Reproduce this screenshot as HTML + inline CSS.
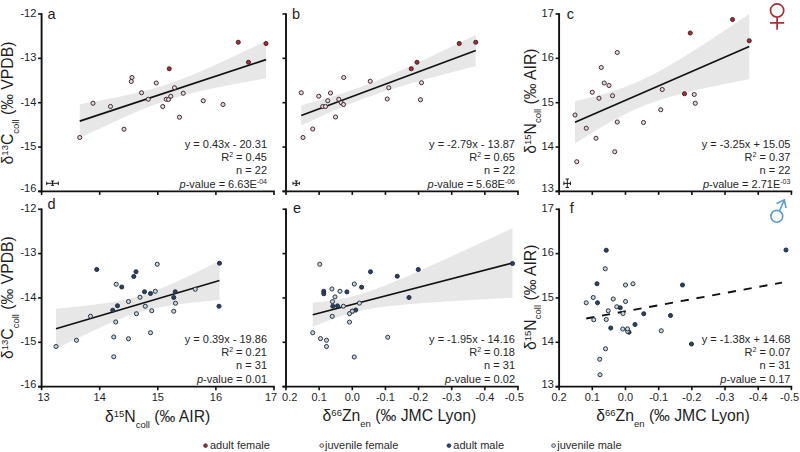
<!DOCTYPE html>
<html><head><meta charset="utf-8"><style>
html,body{margin:0;padding:0;background:#fff;}
body{width:800px;height:452px;overflow:hidden;font-family:"Liberation Sans", sans-serif;}
svg{display:block;}
</style></head><body>
<svg width="800" height="452" viewBox="0 0 800 452" font-family='"Liberation Sans", sans-serif'>
<rect width="800" height="452" fill="#fff"/>
<polygon points="79.75,104.27 82.08,103.85 84.41,103.43 86.73,103.01 89.06,102.58 91.39,102.15 93.72,101.71 96.05,101.28 98.38,100.84 100.70,100.40 103.03,99.95 105.36,99.50 107.69,99.04 110.02,98.58 112.34,98.12 114.67,97.65 117.00,97.17 119.33,96.69 121.66,96.20 123.98,95.70 126.31,95.19 128.64,94.68 130.97,94.16 133.30,93.63 135.62,93.08 137.95,92.53 140.28,91.96 142.61,91.38 144.94,90.79 147.27,90.18 149.59,89.55 151.92,88.91 154.25,88.26 156.58,87.58 158.91,86.89 161.23,86.17 163.56,85.44 165.89,84.69 168.22,83.92 170.55,83.13 172.88,82.32 175.20,81.49 177.53,80.64 179.86,79.77 182.19,78.89 184.52,77.99 186.84,77.07 189.17,76.14 191.50,75.19 193.83,74.23 196.16,73.25 198.48,72.27 200.81,71.27 203.14,70.26 205.47,69.24 207.80,68.22 210.12,67.18 212.45,66.14 214.78,65.09 217.11,64.03 219.44,62.97 221.77,61.90 224.09,60.83 226.42,59.75 228.75,58.66 231.08,57.57 233.41,56.48 235.73,55.39 238.06,54.29 240.39,53.18 242.72,52.08 245.05,50.97 247.38,49.86 249.70,48.74 252.03,47.63 254.36,46.51 256.69,45.39 259.02,44.26 261.34,43.14 263.67,42.01 266.00,40.89 266.00,78.32 263.67,78.74 261.34,79.15 259.02,79.56 256.69,79.98 254.36,80.40 252.03,80.82 249.70,81.24 247.38,81.66 245.05,82.09 242.72,82.52 240.39,82.95 238.06,83.39 235.73,83.83 233.41,84.27 231.08,84.71 228.75,85.16 226.42,85.62 224.09,86.08 221.77,86.54 219.44,87.01 217.11,87.49 214.78,87.97 212.45,88.46 210.12,88.95 207.80,89.46 205.47,89.97 203.14,90.49 200.81,91.02 198.48,91.56 196.16,92.11 193.83,92.68 191.50,93.26 189.17,93.85 186.84,94.45 184.52,95.07 182.19,95.71 179.86,96.37 177.53,97.04 175.20,97.73 172.88,98.44 170.55,99.16 168.22,99.91 165.89,100.68 163.56,101.47 161.23,102.27 158.91,103.10 156.58,103.94 154.25,104.81 151.92,105.69 149.59,106.59 147.27,107.50 144.94,108.43 142.61,109.38 140.28,110.34 137.95,111.31 135.62,112.29 133.30,113.29 130.97,114.29 128.64,115.31 126.31,116.33 123.98,117.37 121.66,118.41 119.33,119.46 117.00,120.51 114.67,121.57 112.34,122.64 110.02,123.72 107.69,124.79 105.36,125.88 103.03,126.96 100.70,128.06 98.38,129.15 96.05,130.25 93.72,131.35 91.39,132.46 89.06,133.57 86.73,134.68 84.41,135.79 82.08,136.91 79.75,138.03" fill="#e7e7e7"/>
<polygon points="301.25,105.31 303.43,104.71 305.61,104.11 307.79,103.51 309.98,102.90 312.16,102.29 314.34,101.68 316.52,101.06 318.70,100.43 320.88,99.80 323.06,99.17 325.24,98.53 327.43,97.88 329.61,97.23 331.79,96.57 333.97,95.90 336.15,95.23 338.33,94.54 340.51,93.85 342.69,93.15 344.88,92.44 347.06,91.72 349.24,90.99 351.42,90.25 353.60,89.50 355.78,88.73 357.96,87.96 360.14,87.17 362.32,86.37 364.51,85.56 366.69,84.74 368.87,83.90 371.05,83.06 373.23,82.20 375.41,81.33 377.59,80.45 379.77,79.55 381.96,78.65 384.14,77.74 386.32,76.82 388.50,75.89 390.68,74.95 392.86,74.00 395.04,73.04 397.23,72.08 399.41,71.11 401.59,70.13 403.77,69.15 405.95,68.16 408.13,67.17 410.31,66.17 412.49,65.17 414.68,64.16 416.86,63.15 419.04,62.13 421.22,61.12 423.40,60.09 425.58,59.07 427.76,58.04 429.94,57.01 432.12,55.97 434.31,54.94 436.49,53.90 438.67,52.86 440.85,51.81 443.03,50.77 445.21,49.72 447.39,48.67 449.57,47.62 451.76,46.57 453.94,45.52 456.12,44.46 458.30,43.41 460.48,42.35 462.66,41.29 464.84,40.23 467.02,39.17 469.21,38.11 471.39,37.05 473.57,35.99 475.75,34.92 475.75,66.13 473.57,66.69 471.39,67.25 469.21,67.81 467.02,68.37 464.84,68.93 462.66,69.50 460.48,70.06 458.30,70.63 456.12,71.20 453.94,71.76 451.76,72.33 449.57,72.91 447.39,73.48 445.21,74.05 443.03,74.63 440.85,75.21 438.67,75.79 436.49,76.37 434.31,76.95 432.12,77.54 429.94,78.13 427.76,78.72 425.58,79.31 423.40,79.91 421.22,80.51 419.04,81.12 416.86,81.72 414.68,82.34 412.49,82.95 410.31,83.57 408.13,84.20 405.95,84.82 403.77,85.46 401.59,86.10 399.41,86.75 397.23,87.40 395.04,88.06 392.86,88.73 390.68,89.40 388.50,90.09 386.32,90.78 384.14,91.48 381.96,92.19 379.77,92.91 377.59,93.64 375.41,94.38 373.23,95.14 371.05,95.90 368.87,96.68 366.69,97.46 364.51,98.26 362.32,99.08 360.14,99.90 357.96,100.74 355.78,101.58 353.60,102.44 351.42,103.31 349.24,104.20 347.06,105.09 344.88,105.99 342.69,106.90 340.51,107.83 338.33,108.76 336.15,109.70 333.97,110.65 331.79,111.60 329.61,112.57 327.43,113.54 325.24,114.51 323.06,115.49 320.88,116.48 318.70,117.48 316.52,118.48 314.34,119.48 312.16,120.49 309.98,121.50 307.79,122.51 305.61,123.53 303.43,124.56 301.25,125.58" fill="#e7e7e7"/>
<polygon points="575.00,101.20 577.18,100.70 579.36,100.19 581.53,99.68 583.71,99.16 585.89,98.63 588.07,98.09 590.25,97.54 592.42,96.99 594.60,96.42 596.78,95.84 598.96,95.25 601.14,94.65 603.32,94.03 605.49,93.40 607.67,92.75 609.85,92.09 612.03,91.41 614.21,90.71 616.38,89.99 618.56,89.26 620.74,88.50 622.92,87.72 625.10,86.92 627.27,86.10 629.45,85.25 631.63,84.37 633.81,83.48 635.99,82.55 638.17,81.61 640.34,80.63 642.52,79.64 644.70,78.61 646.88,77.57 649.06,76.49 651.23,75.40 653.41,74.28 655.59,73.15 657.77,71.99 659.95,70.81 662.12,69.61 664.30,68.40 666.48,67.16 668.66,65.91 670.84,64.65 673.02,63.37 675.19,62.08 677.37,60.78 679.55,59.46 681.73,58.13 683.91,56.80 686.08,55.45 688.26,54.09 690.44,52.73 692.62,51.35 694.80,49.97 696.98,48.59 699.15,47.19 701.33,45.79 703.51,44.38 705.69,42.97 707.87,41.56 710.04,40.13 712.22,38.71 714.40,37.28 716.58,35.84 718.76,34.40 720.93,32.96 723.11,31.52 725.29,30.07 727.47,28.62 729.65,27.16 731.83,25.71 734.00,24.25 736.18,22.78 738.36,21.32 740.54,19.85 742.72,18.38 744.89,16.91 747.07,15.44 749.25,13.97 749.25,79.18 747.07,79.60 744.89,80.02 742.72,80.44 740.54,80.87 738.36,81.30 736.18,81.73 734.00,82.16 731.83,82.59 729.65,83.03 727.47,83.47 725.29,83.91 723.11,84.36 720.93,84.81 718.76,85.26 716.58,85.71 714.40,86.17 712.22,86.64 710.04,87.10 707.87,87.58 705.69,88.05 703.51,88.53 701.33,89.02 699.15,89.52 696.98,90.02 694.80,90.52 692.62,91.03 690.44,91.56 688.26,92.08 686.08,92.62 683.91,93.17 681.73,93.72 679.55,94.29 677.37,94.87 675.19,95.46 673.02,96.06 670.84,96.68 668.66,97.31 666.48,97.95 664.30,98.61 662.12,99.29 659.95,99.99 657.77,100.70 655.59,101.44 653.41,102.20 651.23,102.97 649.06,103.77 646.88,104.60 644.70,105.44 642.52,106.31 640.34,107.21 638.17,108.13 635.99,109.08 633.81,110.05 631.63,111.04 629.45,112.07 627.27,113.11 625.10,114.18 622.92,115.27 620.74,116.39 618.56,117.52 616.38,118.68 614.21,119.86 612.03,121.05 609.85,122.27 607.67,123.50 605.49,124.75 603.32,126.01 601.14,127.29 598.96,128.58 596.78,129.88 594.60,131.20 592.42,132.52 590.25,133.86 588.07,135.21 585.89,136.56 583.71,137.93 581.53,139.30 579.36,140.68 577.18,142.07 575.00,143.46" fill="#e7e7e7"/>
<polygon points="56.00,308.66 58.04,308.47 60.09,308.28 62.13,308.09 64.17,307.89 66.22,307.69 68.26,307.49 70.31,307.29 72.35,307.08 74.39,306.87 76.44,306.66 78.48,306.45 80.53,306.23 82.57,306.01 84.61,305.78 86.66,305.55 88.70,305.31 90.74,305.07 92.79,304.83 94.83,304.58 96.88,304.32 98.92,304.06 100.96,303.78 103.01,303.50 105.05,303.21 107.09,302.91 109.14,302.60 111.18,302.28 113.22,301.95 115.27,301.60 117.31,301.24 119.36,300.86 121.40,300.47 123.44,300.05 125.49,299.62 127.53,299.17 129.57,298.69 131.62,298.19 133.66,297.67 135.71,297.13 137.75,296.56 139.79,295.96 141.84,295.34 143.88,294.69 145.93,294.02 147.97,293.32 150.01,292.61 152.06,291.86 154.10,291.10 156.14,290.32 158.19,289.52 160.23,288.70 162.28,287.86 164.32,287.01 166.36,286.14 168.41,285.26 170.45,284.37 172.49,283.47 174.54,282.56 176.58,281.64 178.62,280.71 180.67,279.77 182.71,278.82 184.76,277.87 186.80,276.91 188.84,275.94 190.89,274.97 192.93,274.00 194.97,273.02 197.02,272.04 199.06,271.05 201.11,270.06 203.15,269.06 205.19,268.07 207.24,267.06 209.28,266.06 211.32,265.06 213.37,264.05 215.41,263.04 217.46,262.03 219.50,261.01 219.50,299.90 217.46,300.10 215.41,300.29 213.37,300.49 211.32,300.69 209.28,300.89 207.24,301.10 205.19,301.31 203.15,301.52 201.11,301.73 199.06,301.95 197.02,302.17 194.97,302.39 192.93,302.62 190.89,302.85 188.84,303.09 186.80,303.33 184.76,303.58 182.71,303.84 180.67,304.10 178.62,304.37 176.58,304.65 174.54,304.93 172.49,305.23 170.45,305.53 168.41,305.85 166.36,306.18 164.32,306.52 162.28,306.88 160.23,307.25 158.19,307.64 156.14,308.04 154.10,308.47 152.06,308.91 150.01,309.38 147.97,309.87 145.93,310.38 143.88,310.92 141.84,311.48 139.79,312.07 137.75,312.68 135.71,313.32 133.66,313.98 131.62,314.66 129.57,315.37 127.53,316.11 125.49,316.86 123.44,317.64 121.40,318.43 119.36,319.25 117.31,320.08 115.27,320.92 113.22,321.78 111.18,322.66 109.14,323.54 107.09,324.44 105.05,325.35 103.01,326.27 100.96,327.20 98.92,328.13 96.88,329.07 94.83,330.02 92.79,330.98 90.74,331.94 88.70,332.91 86.66,333.89 84.61,334.86 82.57,335.85 80.53,336.83 78.48,337.82 76.44,338.81 74.39,339.81 72.35,340.81 70.31,341.81 68.26,342.82 66.22,343.82 64.17,344.83 62.13,345.85 60.09,346.86 58.04,347.87 56.00,348.89" fill="#e7e7e7"/>
<polygon points="312.75,302.78 315.25,302.51 317.74,302.24 320.24,301.95 322.74,301.64 325.23,301.32 327.73,300.98 330.23,300.62 332.73,300.24 335.22,299.84 337.72,299.41 340.22,298.96 342.71,298.47 345.21,297.96 347.71,297.41 350.20,296.83 352.70,296.21 355.20,295.56 357.69,294.88 360.19,294.16 362.69,293.41 365.18,292.63 367.68,291.82 370.18,290.97 372.68,290.10 375.17,289.21 377.67,288.29 380.17,287.35 382.66,286.40 385.16,285.42 387.66,284.43 390.15,283.42 392.65,282.40 395.15,281.37 397.64,280.33 400.14,279.27 402.64,278.21 405.13,277.14 407.63,276.06 410.13,274.98 412.62,273.89 415.12,272.79 417.62,271.69 420.12,270.58 422.61,269.47 425.11,268.36 427.61,267.24 430.10,266.12 432.60,264.99 435.10,263.86 437.59,262.73 440.09,261.60 442.59,260.46 445.08,259.32 447.58,258.18 450.08,257.04 452.57,255.90 455.07,254.75 457.57,253.61 460.07,252.46 462.56,251.31 465.06,250.16 467.56,249.00 470.05,247.85 472.55,246.70 475.05,245.54 477.54,244.38 480.04,243.23 482.54,242.07 485.03,240.91 487.53,239.75 490.03,238.59 492.52,237.43 495.02,236.27 497.52,235.10 500.02,233.94 502.51,232.78 505.01,231.61 507.51,230.45 510.00,229.28 512.50,228.12 512.50,297.80 510.00,297.93 507.51,298.06 505.01,298.19 502.51,298.33 500.02,298.46 497.52,298.59 495.02,298.73 492.52,298.86 490.03,298.99 487.53,299.13 485.03,299.27 482.54,299.40 480.04,299.54 477.54,299.68 475.05,299.82 472.55,299.96 470.05,300.10 467.56,300.24 465.06,300.39 462.56,300.53 460.07,300.68 457.57,300.83 455.07,300.97 452.57,301.12 450.08,301.28 447.58,301.43 445.08,301.59 442.59,301.75 440.09,301.91 437.59,302.07 435.10,302.23 432.60,302.40 430.10,302.57 427.61,302.74 425.11,302.92 422.61,303.10 420.12,303.29 417.62,303.48 415.12,303.67 412.62,303.87 410.13,304.08 407.63,304.29 405.13,304.51 402.64,304.73 400.14,304.96 397.64,305.21 395.15,305.46 392.65,305.72 390.15,306.00 387.66,306.29 385.16,306.59 382.66,306.91 380.17,307.25 377.67,307.61 375.17,307.99 372.68,308.39 370.18,308.81 367.68,309.27 365.18,309.75 362.69,310.26 360.19,310.81 357.69,311.39 355.20,312.00 352.70,312.65 350.20,313.33 347.71,314.04 345.21,314.79 342.71,315.57 340.22,316.38 337.72,317.22 335.22,318.09 332.73,318.98 330.23,319.90 327.73,320.84 325.23,321.80 322.74,322.77 320.24,323.76 317.74,324.77 315.25,325.79 312.75,326.82" fill="#e7e7e7"/>
<line x1="79.75" y1="121.15" x2="266.00" y2="59.61" stroke="#111" stroke-width="1.7"/>
<line x1="301.25" y1="115.45" x2="475.75" y2="50.53" stroke="#111" stroke-width="1.7"/>
<line x1="575.00" y1="122.33" x2="749.25" y2="46.57" stroke="#111" stroke-width="1.7"/>
<line x1="56.00" y1="328.78" x2="219.50" y2="280.46" stroke="#111" stroke-width="1.7"/>
<line x1="312.75" y1="314.80" x2="512.50" y2="262.96" stroke="#111" stroke-width="1.7"/>
<line x1="586.25" y1="318.5" x2="782" y2="282.6" stroke="#111" stroke-width="1.9" stroke-dasharray="8.2 7.8"/>
<line x1="41.60" y1="13.20" x2="41.60" y2="192.35" stroke="#111" stroke-width="1.9"/>
<line x1="38.10" y1="14.00" x2="41.60" y2="14.00" stroke="#111" stroke-width="1.6"/>
<line x1="38.10" y1="58.35" x2="41.60" y2="58.35" stroke="#111" stroke-width="1.6"/>
<line x1="38.10" y1="102.70" x2="41.60" y2="102.70" stroke="#111" stroke-width="1.6"/>
<line x1="38.10" y1="147.05" x2="41.60" y2="147.05" stroke="#111" stroke-width="1.6"/>
<line x1="38.10" y1="191.40" x2="41.60" y2="191.40" stroke="#111" stroke-width="1.6"/>
<line x1="38.10" y1="191.40" x2="274.80" y2="191.40" stroke="#111" stroke-width="1.9"/>
<line x1="41.60" y1="191.40" x2="41.60" y2="194.90" stroke="#111" stroke-width="1.6"/>
<line x1="99.70" y1="191.40" x2="99.70" y2="194.90" stroke="#111" stroke-width="1.6"/>
<line x1="157.80" y1="191.40" x2="157.80" y2="194.90" stroke="#111" stroke-width="1.6"/>
<line x1="215.90" y1="191.40" x2="215.90" y2="194.90" stroke="#111" stroke-width="1.6"/>
<line x1="274.00" y1="191.40" x2="274.00" y2="194.90" stroke="#111" stroke-width="1.6"/>
<text x="47.50" y="18.60" font-size="14.5" text-anchor="start" fill="#1e1e1e">a</text>
<text x="36.30" y="16.80" font-size="11" text-anchor="end" fill="#1e1e1e">-12</text>
<text x="36.30" y="61.15" font-size="11" text-anchor="end" fill="#1e1e1e">-13</text>
<text x="36.30" y="105.50" font-size="11" text-anchor="end" fill="#1e1e1e">-14</text>
<text x="36.30" y="149.85" font-size="11" text-anchor="end" fill="#1e1e1e">-15</text>
<text x="36.30" y="191.60" font-size="11" text-anchor="end" fill="#1e1e1e">-16</text>
<line x1="286.00" y1="13.20" x2="286.00" y2="192.35" stroke="#111" stroke-width="1.9"/>
<line x1="282.50" y1="14.00" x2="286.00" y2="14.00" stroke="#111" stroke-width="1.6"/>
<line x1="282.50" y1="58.35" x2="286.00" y2="58.35" stroke="#111" stroke-width="1.6"/>
<line x1="282.50" y1="102.70" x2="286.00" y2="102.70" stroke="#111" stroke-width="1.6"/>
<line x1="282.50" y1="147.05" x2="286.00" y2="147.05" stroke="#111" stroke-width="1.6"/>
<line x1="282.50" y1="191.40" x2="286.00" y2="191.40" stroke="#111" stroke-width="1.6"/>
<line x1="282.50" y1="191.40" x2="518.80" y2="191.40" stroke="#111" stroke-width="1.9"/>
<line x1="286.00" y1="191.40" x2="286.00" y2="194.90" stroke="#111" stroke-width="1.6"/>
<line x1="319.14" y1="191.40" x2="319.14" y2="194.90" stroke="#111" stroke-width="1.6"/>
<line x1="352.29" y1="191.40" x2="352.29" y2="194.90" stroke="#111" stroke-width="1.6"/>
<line x1="385.43" y1="191.40" x2="385.43" y2="194.90" stroke="#111" stroke-width="1.6"/>
<line x1="418.57" y1="191.40" x2="418.57" y2="194.90" stroke="#111" stroke-width="1.6"/>
<line x1="451.71" y1="191.40" x2="451.71" y2="194.90" stroke="#111" stroke-width="1.6"/>
<line x1="484.86" y1="191.40" x2="484.86" y2="194.90" stroke="#111" stroke-width="1.6"/>
<line x1="518.00" y1="191.40" x2="518.00" y2="194.90" stroke="#111" stroke-width="1.6"/>
<text x="292.10" y="18.60" font-size="14.5" text-anchor="start" fill="#1e1e1e">b</text>
<line x1="559.10" y1="13.20" x2="559.10" y2="192.35" stroke="#111" stroke-width="1.9"/>
<line x1="555.60" y1="14.00" x2="559.10" y2="14.00" stroke="#111" stroke-width="1.6"/>
<line x1="555.60" y1="58.35" x2="559.10" y2="58.35" stroke="#111" stroke-width="1.6"/>
<line x1="555.60" y1="102.70" x2="559.10" y2="102.70" stroke="#111" stroke-width="1.6"/>
<line x1="555.60" y1="147.05" x2="559.10" y2="147.05" stroke="#111" stroke-width="1.6"/>
<line x1="555.60" y1="191.40" x2="559.10" y2="191.40" stroke="#111" stroke-width="1.6"/>
<line x1="555.60" y1="191.40" x2="792.20" y2="191.40" stroke="#111" stroke-width="1.9"/>
<line x1="559.10" y1="191.40" x2="559.10" y2="194.90" stroke="#111" stroke-width="1.6"/>
<line x1="592.29" y1="191.40" x2="592.29" y2="194.90" stroke="#111" stroke-width="1.6"/>
<line x1="625.47" y1="191.40" x2="625.47" y2="194.90" stroke="#111" stroke-width="1.6"/>
<line x1="658.66" y1="191.40" x2="658.66" y2="194.90" stroke="#111" stroke-width="1.6"/>
<line x1="691.84" y1="191.40" x2="691.84" y2="194.90" stroke="#111" stroke-width="1.6"/>
<line x1="725.03" y1="191.40" x2="725.03" y2="194.90" stroke="#111" stroke-width="1.6"/>
<line x1="758.21" y1="191.40" x2="758.21" y2="194.90" stroke="#111" stroke-width="1.6"/>
<line x1="791.40" y1="191.40" x2="791.40" y2="194.90" stroke="#111" stroke-width="1.6"/>
<text x="566.65" y="19.20" font-size="14.5" text-anchor="start" fill="#1e1e1e">c</text>
<text x="553.80" y="16.80" font-size="11" text-anchor="end" fill="#1e1e1e">17</text>
<text x="553.80" y="61.15" font-size="11" text-anchor="end" fill="#1e1e1e">16</text>
<text x="553.80" y="105.50" font-size="11" text-anchor="end" fill="#1e1e1e">15</text>
<text x="553.80" y="149.85" font-size="11" text-anchor="end" fill="#1e1e1e">14</text>
<text x="553.80" y="191.60" font-size="11" text-anchor="end" fill="#1e1e1e">13</text>
<line x1="41.60" y1="208.45" x2="41.60" y2="387.60" stroke="#111" stroke-width="1.9"/>
<line x1="38.10" y1="209.25" x2="41.60" y2="209.25" stroke="#111" stroke-width="1.6"/>
<line x1="38.10" y1="253.60" x2="41.60" y2="253.60" stroke="#111" stroke-width="1.6"/>
<line x1="38.10" y1="297.95" x2="41.60" y2="297.95" stroke="#111" stroke-width="1.6"/>
<line x1="38.10" y1="342.30" x2="41.60" y2="342.30" stroke="#111" stroke-width="1.6"/>
<line x1="38.10" y1="386.65" x2="41.60" y2="386.65" stroke="#111" stroke-width="1.6"/>
<line x1="38.10" y1="386.65" x2="274.80" y2="386.65" stroke="#111" stroke-width="1.9"/>
<line x1="41.60" y1="386.65" x2="41.60" y2="390.15" stroke="#111" stroke-width="1.6"/>
<line x1="99.70" y1="386.65" x2="99.70" y2="390.15" stroke="#111" stroke-width="1.6"/>
<line x1="157.80" y1="386.65" x2="157.80" y2="390.15" stroke="#111" stroke-width="1.6"/>
<line x1="215.90" y1="386.65" x2="215.90" y2="390.15" stroke="#111" stroke-width="1.6"/>
<line x1="274.00" y1="386.65" x2="274.00" y2="390.15" stroke="#111" stroke-width="1.6"/>
<text x="47.60" y="209.40" font-size="14.5" text-anchor="start" fill="#1e1e1e">d</text>
<text x="36.30" y="212.05" font-size="11" text-anchor="end" fill="#1e1e1e">-12</text>
<text x="36.30" y="256.40" font-size="11" text-anchor="end" fill="#1e1e1e">-13</text>
<text x="36.30" y="300.75" font-size="11" text-anchor="end" fill="#1e1e1e">-14</text>
<text x="36.30" y="345.10" font-size="11" text-anchor="end" fill="#1e1e1e">-15</text>
<text x="36.30" y="387.85" font-size="11" text-anchor="end" fill="#1e1e1e">-16</text>
<text x="43.60" y="400.85" font-size="11" text-anchor="middle" fill="#1e1e1e">13</text>
<text x="99.70" y="400.85" font-size="11" text-anchor="middle" fill="#1e1e1e">14</text>
<text x="157.80" y="400.85" font-size="11" text-anchor="middle" fill="#1e1e1e">15</text>
<text x="215.90" y="400.85" font-size="11" text-anchor="middle" fill="#1e1e1e">16</text>
<text x="271.00" y="400.85" font-size="11" text-anchor="middle" fill="#1e1e1e">17</text>
<line x1="286.00" y1="208.45" x2="286.00" y2="387.60" stroke="#111" stroke-width="1.9"/>
<line x1="282.50" y1="209.25" x2="286.00" y2="209.25" stroke="#111" stroke-width="1.6"/>
<line x1="282.50" y1="253.60" x2="286.00" y2="253.60" stroke="#111" stroke-width="1.6"/>
<line x1="282.50" y1="297.95" x2="286.00" y2="297.95" stroke="#111" stroke-width="1.6"/>
<line x1="282.50" y1="342.30" x2="286.00" y2="342.30" stroke="#111" stroke-width="1.6"/>
<line x1="282.50" y1="386.65" x2="286.00" y2="386.65" stroke="#111" stroke-width="1.6"/>
<line x1="282.50" y1="386.65" x2="518.80" y2="386.65" stroke="#111" stroke-width="1.9"/>
<line x1="286.00" y1="386.65" x2="286.00" y2="390.15" stroke="#111" stroke-width="1.6"/>
<line x1="319.14" y1="386.65" x2="319.14" y2="390.15" stroke="#111" stroke-width="1.6"/>
<line x1="352.29" y1="386.65" x2="352.29" y2="390.15" stroke="#111" stroke-width="1.6"/>
<line x1="385.43" y1="386.65" x2="385.43" y2="390.15" stroke="#111" stroke-width="1.6"/>
<line x1="418.57" y1="386.65" x2="418.57" y2="390.15" stroke="#111" stroke-width="1.6"/>
<line x1="451.71" y1="386.65" x2="451.71" y2="390.15" stroke="#111" stroke-width="1.6"/>
<line x1="484.86" y1="386.65" x2="484.86" y2="390.15" stroke="#111" stroke-width="1.6"/>
<line x1="518.00" y1="386.65" x2="518.00" y2="390.15" stroke="#111" stroke-width="1.6"/>
<text x="292.90" y="213.30" font-size="14.5" text-anchor="start" fill="#1e1e1e">e</text>
<text x="289.70" y="400.85" font-size="11" text-anchor="middle" fill="#1e1e1e">0.2</text>
<text x="319.14" y="400.85" font-size="11" text-anchor="middle" fill="#1e1e1e">0.1</text>
<text x="352.29" y="400.85" font-size="11" text-anchor="middle" fill="#1e1e1e">0.0</text>
<text x="385.43" y="400.85" font-size="11" text-anchor="middle" fill="#1e1e1e">-0.1</text>
<text x="418.57" y="400.85" font-size="11" text-anchor="middle" fill="#1e1e1e">-0.2</text>
<text x="451.71" y="400.85" font-size="11" text-anchor="middle" fill="#1e1e1e">-0.3</text>
<text x="484.86" y="400.85" font-size="11" text-anchor="middle" fill="#1e1e1e">-0.4</text>
<text x="514.30" y="400.85" font-size="11" text-anchor="middle" fill="#1e1e1e">-0.5</text>
<line x1="559.10" y1="208.45" x2="559.10" y2="387.60" stroke="#111" stroke-width="1.9"/>
<line x1="555.60" y1="209.25" x2="559.10" y2="209.25" stroke="#111" stroke-width="1.6"/>
<line x1="555.60" y1="253.60" x2="559.10" y2="253.60" stroke="#111" stroke-width="1.6"/>
<line x1="555.60" y1="297.95" x2="559.10" y2="297.95" stroke="#111" stroke-width="1.6"/>
<line x1="555.60" y1="342.30" x2="559.10" y2="342.30" stroke="#111" stroke-width="1.6"/>
<line x1="555.60" y1="386.65" x2="559.10" y2="386.65" stroke="#111" stroke-width="1.6"/>
<line x1="555.60" y1="386.65" x2="792.20" y2="386.65" stroke="#111" stroke-width="1.9"/>
<line x1="559.10" y1="386.65" x2="559.10" y2="390.15" stroke="#111" stroke-width="1.6"/>
<line x1="592.29" y1="386.65" x2="592.29" y2="390.15" stroke="#111" stroke-width="1.6"/>
<line x1="625.47" y1="386.65" x2="625.47" y2="390.15" stroke="#111" stroke-width="1.6"/>
<line x1="658.66" y1="386.65" x2="658.66" y2="390.15" stroke="#111" stroke-width="1.6"/>
<line x1="691.84" y1="386.65" x2="691.84" y2="390.15" stroke="#111" stroke-width="1.6"/>
<line x1="725.03" y1="386.65" x2="725.03" y2="390.15" stroke="#111" stroke-width="1.6"/>
<line x1="758.21" y1="386.65" x2="758.21" y2="390.15" stroke="#111" stroke-width="1.6"/>
<line x1="791.40" y1="386.65" x2="791.40" y2="390.15" stroke="#111" stroke-width="1.6"/>
<text x="569.85" y="213.30" font-size="14.5" text-anchor="start" fill="#1e1e1e">f</text>
<text x="553.80" y="212.05" font-size="11" text-anchor="end" fill="#1e1e1e">17</text>
<text x="553.80" y="256.40" font-size="11" text-anchor="end" fill="#1e1e1e">16</text>
<text x="553.80" y="300.75" font-size="11" text-anchor="end" fill="#1e1e1e">15</text>
<text x="553.80" y="345.10" font-size="11" text-anchor="end" fill="#1e1e1e">14</text>
<text x="553.80" y="387.85" font-size="11" text-anchor="end" fill="#1e1e1e">13</text>
<text x="559.10" y="400.85" font-size="11" text-anchor="middle" fill="#1e1e1e">0.2</text>
<text x="592.29" y="400.85" font-size="11" text-anchor="middle" fill="#1e1e1e">0.1</text>
<text x="625.47" y="400.85" font-size="11" text-anchor="middle" fill="#1e1e1e">0.0</text>
<text x="658.66" y="400.85" font-size="11" text-anchor="middle" fill="#1e1e1e">-0.1</text>
<text x="691.84" y="400.85" font-size="11" text-anchor="middle" fill="#1e1e1e">-0.2</text>
<text x="725.03" y="400.85" font-size="11" text-anchor="middle" fill="#1e1e1e">-0.3</text>
<text x="758.21" y="400.85" font-size="11" text-anchor="middle" fill="#1e1e1e">-0.4</text>
<text x="789.60" y="400.85" font-size="11" text-anchor="middle" fill="#1e1e1e">-0.5</text>
<circle cx="79.75" cy="137.50" r="2.05" fill="#f8cdd4" stroke="#2a2a2a" stroke-width="0.95"/>
<circle cx="93.00" cy="103.25" r="2.05" fill="#f8cdd4" stroke="#2a2a2a" stroke-width="0.95"/>
<circle cx="110.50" cy="106.50" r="2.05" fill="#f8cdd4" stroke="#2a2a2a" stroke-width="0.95"/>
<circle cx="124.00" cy="129.25" r="2.05" fill="#f8cdd4" stroke="#2a2a2a" stroke-width="0.95"/>
<circle cx="132.00" cy="77.50" r="2.05" fill="#f8cdd4" stroke="#2a2a2a" stroke-width="0.95"/>
<circle cx="131.25" cy="81.50" r="2.05" fill="#f8cdd4" stroke="#2a2a2a" stroke-width="0.95"/>
<circle cx="141.50" cy="92.75" r="2.05" fill="#f8cdd4" stroke="#2a2a2a" stroke-width="0.95"/>
<circle cx="148.25" cy="99.25" r="2.05" fill="#f8cdd4" stroke="#2a2a2a" stroke-width="0.95"/>
<circle cx="156.25" cy="83.00" r="2.05" fill="#f8cdd4" stroke="#2a2a2a" stroke-width="0.95"/>
<circle cx="169.25" cy="68.75" r="2.05" fill="#b9242a" stroke="#2a2a2a" stroke-width="0.95"/>
<circle cx="162.75" cy="106.50" r="2.05" fill="#f8cdd4" stroke="#2a2a2a" stroke-width="0.95"/>
<circle cx="166.25" cy="99.25" r="2.05" fill="#f8cdd4" stroke="#2a2a2a" stroke-width="0.95"/>
<circle cx="168.50" cy="99.50" r="2.05" fill="#f8cdd4" stroke="#2a2a2a" stroke-width="0.95"/>
<circle cx="170.75" cy="96.25" r="2.05" fill="#f8cdd4" stroke="#2a2a2a" stroke-width="0.95"/>
<circle cx="174.50" cy="87.75" r="2.05" fill="#f8cdd4" stroke="#2a2a2a" stroke-width="0.95"/>
<circle cx="183.25" cy="93.25" r="2.05" fill="#f8cdd4" stroke="#2a2a2a" stroke-width="0.95"/>
<circle cx="179.50" cy="117.25" r="2.05" fill="#f8cdd4" stroke="#2a2a2a" stroke-width="0.95"/>
<circle cx="203.25" cy="100.75" r="2.05" fill="#f8cdd4" stroke="#2a2a2a" stroke-width="0.95"/>
<circle cx="223.00" cy="104.50" r="2.05" fill="#f8cdd4" stroke="#2a2a2a" stroke-width="0.95"/>
<circle cx="238.25" cy="42.25" r="2.05" fill="#b9242a" stroke="#2a2a2a" stroke-width="0.95"/>
<circle cx="248.50" cy="62.25" r="2.05" fill="#b9242a" stroke="#2a2a2a" stroke-width="0.95"/>
<circle cx="266.00" cy="43.50" r="2.05" fill="#b9242a" stroke="#2a2a2a" stroke-width="0.95"/>
<circle cx="301.25" cy="92.75" r="2.05" fill="#f8cdd4" stroke="#2a2a2a" stroke-width="0.95"/>
<circle cx="303.00" cy="137.50" r="2.05" fill="#f8cdd4" stroke="#2a2a2a" stroke-width="0.95"/>
<circle cx="312.75" cy="129.00" r="2.05" fill="#f8cdd4" stroke="#2a2a2a" stroke-width="0.95"/>
<circle cx="318.75" cy="96.25" r="2.05" fill="#f8cdd4" stroke="#2a2a2a" stroke-width="0.95"/>
<circle cx="322.75" cy="106.50" r="2.05" fill="#f8cdd4" stroke="#2a2a2a" stroke-width="0.95"/>
<circle cx="325.50" cy="106.50" r="2.05" fill="#f8cdd4" stroke="#2a2a2a" stroke-width="0.95"/>
<circle cx="327.75" cy="100.75" r="2.05" fill="#f8cdd4" stroke="#2a2a2a" stroke-width="0.95"/>
<circle cx="330.50" cy="93.00" r="2.05" fill="#f8cdd4" stroke="#2a2a2a" stroke-width="0.95"/>
<circle cx="335.50" cy="117.00" r="2.05" fill="#f8cdd4" stroke="#2a2a2a" stroke-width="0.95"/>
<circle cx="338.75" cy="99.25" r="2.05" fill="#f8cdd4" stroke="#2a2a2a" stroke-width="0.95"/>
<circle cx="341.25" cy="102.75" r="2.05" fill="#f8cdd4" stroke="#2a2a2a" stroke-width="0.95"/>
<circle cx="343.50" cy="104.50" r="2.05" fill="#f8cdd4" stroke="#2a2a2a" stroke-width="0.95"/>
<circle cx="343.75" cy="77.50" r="2.05" fill="#f8cdd4" stroke="#2a2a2a" stroke-width="0.95"/>
<circle cx="370.25" cy="81.25" r="2.05" fill="#f8cdd4" stroke="#2a2a2a" stroke-width="0.95"/>
<circle cx="387.25" cy="99.00" r="2.05" fill="#f8cdd4" stroke="#2a2a2a" stroke-width="0.95"/>
<circle cx="388.75" cy="87.75" r="2.05" fill="#f8cdd4" stroke="#2a2a2a" stroke-width="0.95"/>
<circle cx="411.25" cy="68.75" r="2.05" fill="#b9242a" stroke="#2a2a2a" stroke-width="0.95"/>
<circle cx="417.00" cy="62.25" r="2.05" fill="#b9242a" stroke="#2a2a2a" stroke-width="0.95"/>
<circle cx="420.50" cy="99.75" r="2.05" fill="#f8cdd4" stroke="#2a2a2a" stroke-width="0.95"/>
<circle cx="421.50" cy="82.75" r="2.05" fill="#f8cdd4" stroke="#2a2a2a" stroke-width="0.95"/>
<circle cx="459.25" cy="43.50" r="2.05" fill="#b9242a" stroke="#2a2a2a" stroke-width="0.95"/>
<circle cx="475.75" cy="42.25" r="2.05" fill="#b9242a" stroke="#2a2a2a" stroke-width="0.95"/>
<circle cx="575.00" cy="115.00" r="2.05" fill="#f8cdd4" stroke="#2a2a2a" stroke-width="0.95"/>
<circle cx="586.25" cy="128.25" r="2.05" fill="#f8cdd4" stroke="#2a2a2a" stroke-width="0.95"/>
<circle cx="596.00" cy="138.25" r="2.05" fill="#f8cdd4" stroke="#2a2a2a" stroke-width="0.95"/>
<circle cx="592.25" cy="92.25" r="2.05" fill="#f8cdd4" stroke="#2a2a2a" stroke-width="0.95"/>
<circle cx="599.00" cy="98.25" r="2.05" fill="#f8cdd4" stroke="#2a2a2a" stroke-width="0.95"/>
<circle cx="601.25" cy="67.50" r="2.05" fill="#f8cdd4" stroke="#2a2a2a" stroke-width="0.95"/>
<circle cx="604.25" cy="83.00" r="2.05" fill="#f8cdd4" stroke="#2a2a2a" stroke-width="0.95"/>
<circle cx="609.00" cy="85.50" r="2.05" fill="#f8cdd4" stroke="#2a2a2a" stroke-width="0.95"/>
<circle cx="612.50" cy="95.75" r="2.05" fill="#f8cdd4" stroke="#2a2a2a" stroke-width="0.95"/>
<circle cx="617.25" cy="52.50" r="2.05" fill="#f8cdd4" stroke="#2a2a2a" stroke-width="0.95"/>
<circle cx="617.25" cy="122.00" r="2.05" fill="#f8cdd4" stroke="#2a2a2a" stroke-width="0.95"/>
<circle cx="643.50" cy="122.50" r="2.05" fill="#f8cdd4" stroke="#2a2a2a" stroke-width="0.95"/>
<circle cx="660.75" cy="109.75" r="2.05" fill="#f8cdd4" stroke="#2a2a2a" stroke-width="0.95"/>
<circle cx="662.25" cy="89.50" r="2.05" fill="#f8cdd4" stroke="#2a2a2a" stroke-width="0.95"/>
<circle cx="684.50" cy="93.75" r="2.05" fill="#b9242a" stroke="#2a2a2a" stroke-width="0.95"/>
<circle cx="690.25" cy="33.00" r="2.05" fill="#b9242a" stroke="#2a2a2a" stroke-width="0.95"/>
<circle cx="694.25" cy="94.50" r="2.05" fill="#f8cdd4" stroke="#2a2a2a" stroke-width="0.95"/>
<circle cx="695.25" cy="103.25" r="2.05" fill="#f8cdd4" stroke="#2a2a2a" stroke-width="0.95"/>
<circle cx="749.25" cy="40.75" r="2.05" fill="#b9242a" stroke="#2a2a2a" stroke-width="0.95"/>
<circle cx="732.50" cy="19.50" r="2.05" fill="#b9242a" stroke="#2a2a2a" stroke-width="0.95"/>
<circle cx="576.75" cy="161.75" r="2.05" fill="#f8cdd4" stroke="#2a2a2a" stroke-width="0.95"/>
<circle cx="614.75" cy="151.75" r="2.05" fill="#f8cdd4" stroke="#2a2a2a" stroke-width="0.95"/>
<circle cx="56.00" cy="346.50" r="2.05" fill="#bcd6ee" stroke="#2a2a2a" stroke-width="0.95"/>
<circle cx="76.50" cy="340.25" r="2.05" fill="#bcd6ee" stroke="#2a2a2a" stroke-width="0.95"/>
<circle cx="90.50" cy="316.25" r="2.05" fill="#bcd6ee" stroke="#2a2a2a" stroke-width="0.95"/>
<circle cx="96.75" cy="269.50" r="2.05" fill="#1c4379" stroke="#2a2a2a" stroke-width="0.95"/>
<circle cx="112.75" cy="310.25" r="2.05" fill="#1c4379" stroke="#2a2a2a" stroke-width="0.95"/>
<circle cx="117.50" cy="305.75" r="2.05" fill="#1c4379" stroke="#2a2a2a" stroke-width="0.95"/>
<circle cx="113.75" cy="337.00" r="2.05" fill="#bcd6ee" stroke="#2a2a2a" stroke-width="0.95"/>
<circle cx="115.75" cy="322.00" r="2.05" fill="#bcd6ee" stroke="#2a2a2a" stroke-width="0.95"/>
<circle cx="116.25" cy="284.25" r="2.05" fill="#bcd6ee" stroke="#2a2a2a" stroke-width="0.95"/>
<circle cx="121.75" cy="287.00" r="2.05" fill="#1c4379" stroke="#2a2a2a" stroke-width="0.95"/>
<circle cx="128.50" cy="301.50" r="2.05" fill="#bcd6ee" stroke="#2a2a2a" stroke-width="0.95"/>
<circle cx="128.50" cy="338.75" r="2.05" fill="#bcd6ee" stroke="#2a2a2a" stroke-width="0.95"/>
<circle cx="133.75" cy="276.50" r="2.05" fill="#1c4379" stroke="#2a2a2a" stroke-width="0.95"/>
<circle cx="136.00" cy="271.75" r="2.05" fill="#1c4379" stroke="#2a2a2a" stroke-width="0.95"/>
<circle cx="136.50" cy="313.75" r="2.05" fill="#bcd6ee" stroke="#2a2a2a" stroke-width="0.95"/>
<circle cx="140.00" cy="297.25" r="2.05" fill="#bcd6ee" stroke="#2a2a2a" stroke-width="0.95"/>
<circle cx="144.50" cy="291.75" r="2.05" fill="#1c4379" stroke="#2a2a2a" stroke-width="0.95"/>
<circle cx="145.25" cy="306.25" r="2.05" fill="#bcd6ee" stroke="#2a2a2a" stroke-width="0.95"/>
<circle cx="150.50" cy="293.50" r="2.05" fill="#1c4379" stroke="#2a2a2a" stroke-width="0.95"/>
<circle cx="150.50" cy="332.75" r="2.05" fill="#bcd6ee" stroke="#2a2a2a" stroke-width="0.95"/>
<circle cx="151.75" cy="310.75" r="2.05" fill="#bcd6ee" stroke="#2a2a2a" stroke-width="0.95"/>
<circle cx="155.25" cy="291.25" r="2.05" fill="#bcd6ee" stroke="#2a2a2a" stroke-width="0.95"/>
<circle cx="157.25" cy="264.25" r="2.05" fill="#bcd6ee" stroke="#2a2a2a" stroke-width="0.95"/>
<circle cx="173.75" cy="297.50" r="2.05" fill="#1c4379" stroke="#2a2a2a" stroke-width="0.95"/>
<circle cx="175.25" cy="291.75" r="2.05" fill="#1c4379" stroke="#2a2a2a" stroke-width="0.95"/>
<circle cx="175.50" cy="303.25" r="2.05" fill="#bcd6ee" stroke="#2a2a2a" stroke-width="0.95"/>
<circle cx="173.75" cy="311.25" r="2.05" fill="#bcd6ee" stroke="#2a2a2a" stroke-width="0.95"/>
<circle cx="195.25" cy="289.25" r="2.05" fill="#bcd6ee" stroke="#2a2a2a" stroke-width="0.95"/>
<circle cx="219.00" cy="306.25" r="2.05" fill="#1c4379" stroke="#2a2a2a" stroke-width="0.95"/>
<circle cx="219.50" cy="263.25" r="2.05" fill="#1c4379" stroke="#2a2a2a" stroke-width="0.95"/>
<circle cx="113.75" cy="356.75" r="2.05" fill="#bcd6ee" stroke="#2a2a2a" stroke-width="0.95"/>
<circle cx="319.75" cy="264.25" r="2.05" fill="#bcd6ee" stroke="#2a2a2a" stroke-width="0.95"/>
<circle cx="323.75" cy="291.25" r="2.05" fill="#1c4379" stroke="#2a2a2a" stroke-width="0.95"/>
<circle cx="323.75" cy="293.75" r="2.05" fill="#1c4379" stroke="#2a2a2a" stroke-width="0.95"/>
<circle cx="331.90" cy="289.00" r="2.05" fill="#bcd6ee" stroke="#2a2a2a" stroke-width="0.95"/>
<circle cx="332.50" cy="301.60" r="2.05" fill="#bcd6ee" stroke="#2a2a2a" stroke-width="0.95"/>
<circle cx="332.80" cy="306.25" r="2.05" fill="#1c4379" stroke="#2a2a2a" stroke-width="0.95"/>
<circle cx="332.25" cy="316.40" r="2.05" fill="#bcd6ee" stroke="#2a2a2a" stroke-width="0.95"/>
<circle cx="335.00" cy="296.90" r="2.05" fill="#bcd6ee" stroke="#2a2a2a" stroke-width="0.95"/>
<circle cx="337.50" cy="305.90" r="2.05" fill="#1c4379" stroke="#2a2a2a" stroke-width="0.95"/>
<circle cx="340.00" cy="291.25" r="2.05" fill="#bcd6ee" stroke="#2a2a2a" stroke-width="0.95"/>
<circle cx="343.40" cy="306.25" r="2.05" fill="#bcd6ee" stroke="#2a2a2a" stroke-width="0.95"/>
<circle cx="346.90" cy="291.90" r="2.05" fill="#1c4379" stroke="#2a2a2a" stroke-width="0.95"/>
<circle cx="349.50" cy="313.60" r="2.05" fill="#bcd6ee" stroke="#2a2a2a" stroke-width="0.95"/>
<circle cx="349.50" cy="322.10" r="2.05" fill="#bcd6ee" stroke="#2a2a2a" stroke-width="0.95"/>
<circle cx="352.30" cy="311.20" r="2.05" fill="#bcd6ee" stroke="#2a2a2a" stroke-width="0.95"/>
<circle cx="354.30" cy="284.00" r="2.05" fill="#bcd6ee" stroke="#2a2a2a" stroke-width="0.95"/>
<circle cx="355.70" cy="310.00" r="2.05" fill="#1c4379" stroke="#2a2a2a" stroke-width="0.95"/>
<circle cx="359.40" cy="303.10" r="2.05" fill="#bcd6ee" stroke="#2a2a2a" stroke-width="0.95"/>
<circle cx="361.60" cy="287.20" r="2.05" fill="#1c4379" stroke="#2a2a2a" stroke-width="0.95"/>
<circle cx="370.50" cy="271.75" r="2.05" fill="#1c4379" stroke="#2a2a2a" stroke-width="0.95"/>
<circle cx="397.25" cy="276.25" r="2.05" fill="#1c4379" stroke="#2a2a2a" stroke-width="0.95"/>
<circle cx="409.00" cy="297.50" r="2.05" fill="#1c4379" stroke="#2a2a2a" stroke-width="0.95"/>
<circle cx="418.25" cy="269.50" r="2.05" fill="#1c4379" stroke="#2a2a2a" stroke-width="0.95"/>
<circle cx="312.75" cy="332.75" r="2.05" fill="#bcd6ee" stroke="#2a2a2a" stroke-width="0.95"/>
<circle cx="320.50" cy="338.60" r="2.05" fill="#bcd6ee" stroke="#2a2a2a" stroke-width="0.95"/>
<circle cx="387.75" cy="337.25" r="2.05" fill="#bcd6ee" stroke="#2a2a2a" stroke-width="0.95"/>
<circle cx="326.50" cy="340.25" r="2.05" fill="#bcd6ee" stroke="#2a2a2a" stroke-width="0.95"/>
<circle cx="326.50" cy="346.50" r="2.05" fill="#bcd6ee" stroke="#2a2a2a" stroke-width="0.95"/>
<circle cx="354.25" cy="357.00" r="2.05" fill="#bcd6ee" stroke="#2a2a2a" stroke-width="0.95"/>
<circle cx="512.50" cy="263.50" r="2.05" fill="#1c4379" stroke="#2a2a2a" stroke-width="0.95"/>
<circle cx="352.30" cy="311.20" r="2.05" fill="#bcd6ee" stroke="#2a2a2a" stroke-width="0.95"/>
<circle cx="606.25" cy="250.25" r="2.05" fill="#1c4379" stroke="#2a2a2a" stroke-width="0.95"/>
<circle cx="605.25" cy="268.75" r="2.05" fill="#bcd6ee" stroke="#2a2a2a" stroke-width="0.95"/>
<circle cx="597.00" cy="283.75" r="2.05" fill="#1c4379" stroke="#2a2a2a" stroke-width="0.95"/>
<circle cx="593.25" cy="297.50" r="2.05" fill="#bcd6ee" stroke="#2a2a2a" stroke-width="0.95"/>
<circle cx="586.25" cy="302.75" r="2.05" fill="#bcd6ee" stroke="#2a2a2a" stroke-width="0.95"/>
<circle cx="597.50" cy="302.75" r="2.05" fill="#1c4379" stroke="#2a2a2a" stroke-width="0.95"/>
<circle cx="593.75" cy="319.75" r="2.05" fill="#bcd6ee" stroke="#2a2a2a" stroke-width="0.95"/>
<circle cx="606.25" cy="319.50" r="2.05" fill="#bcd6ee" stroke="#2a2a2a" stroke-width="0.95"/>
<circle cx="608.25" cy="310.75" r="2.05" fill="#bcd6ee" stroke="#2a2a2a" stroke-width="0.95"/>
<circle cx="610.75" cy="328.00" r="2.05" fill="#1c4379" stroke="#2a2a2a" stroke-width="0.95"/>
<circle cx="613.25" cy="299.00" r="2.05" fill="#bcd6ee" stroke="#2a2a2a" stroke-width="0.95"/>
<circle cx="616.75" cy="306.75" r="2.05" fill="#bcd6ee" stroke="#2a2a2a" stroke-width="0.95"/>
<circle cx="620.25" cy="307.75" r="2.05" fill="#1c4379" stroke="#2a2a2a" stroke-width="0.95"/>
<circle cx="623.00" cy="313.50" r="2.05" fill="#bcd6ee" stroke="#2a2a2a" stroke-width="0.95"/>
<circle cx="625.50" cy="285.00" r="2.05" fill="#bcd6ee" stroke="#2a2a2a" stroke-width="0.95"/>
<circle cx="625.50" cy="301.50" r="2.05" fill="#bcd6ee" stroke="#2a2a2a" stroke-width="0.95"/>
<circle cx="633.00" cy="283.75" r="2.05" fill="#bcd6ee" stroke="#2a2a2a" stroke-width="0.95"/>
<circle cx="622.75" cy="329.00" r="2.05" fill="#bcd6ee" stroke="#2a2a2a" stroke-width="0.95"/>
<circle cx="629.00" cy="332.20" r="2.05" fill="#1c4379" stroke="#2a2a2a" stroke-width="0.95"/>
<circle cx="627.50" cy="331.30" r="2.05" fill="#bcd6ee" stroke="#2a2a2a" stroke-width="0.95"/>
<circle cx="627.50" cy="328.90" r="2.05" fill="#bcd6ee" stroke="#2a2a2a" stroke-width="0.95"/>
<circle cx="635.00" cy="324.50" r="2.05" fill="#1c4379" stroke="#2a2a2a" stroke-width="0.95"/>
<circle cx="643.75" cy="313.75" r="2.05" fill="#1c4379" stroke="#2a2a2a" stroke-width="0.95"/>
<circle cx="661.25" cy="330.75" r="2.05" fill="#bcd6ee" stroke="#2a2a2a" stroke-width="0.95"/>
<circle cx="670.50" cy="315.50" r="2.05" fill="#1c4379" stroke="#2a2a2a" stroke-width="0.95"/>
<circle cx="682.50" cy="285.00" r="2.05" fill="#1c4379" stroke="#2a2a2a" stroke-width="0.95"/>
<circle cx="605.50" cy="348.75" r="2.05" fill="#bcd6ee" stroke="#2a2a2a" stroke-width="0.95"/>
<circle cx="599.75" cy="359.25" r="2.05" fill="#bcd6ee" stroke="#2a2a2a" stroke-width="0.95"/>
<circle cx="600.00" cy="374.75" r="2.05" fill="#bcd6ee" stroke="#2a2a2a" stroke-width="0.95"/>
<circle cx="691.50" cy="344.00" r="2.05" fill="#1c4379" stroke="#2a2a2a" stroke-width="0.95"/>
<circle cx="786.00" cy="250.00" r="2.05" fill="#1c4379" stroke="#2a2a2a" stroke-width="0.95"/>
<text x="267.00" y="147.60" font-size="11" text-anchor="end" fill="#262626">y = 0.43x - 20.31</text>
<text x="267.00" y="160.90" font-size="11" text-anchor="end" fill="#262626">R<tspan dy="-4" font-size="7">2</tspan><tspan dy="4"> = 0.45</tspan></text>
<text x="267.00" y="174.20" font-size="11" text-anchor="end" fill="#262626">n = 22</text>
<text x="267.00" y="187.50" font-size="11" text-anchor="end" fill="#262626"><tspan font-style="italic">p</tspan>-value = 6.63E<tspan dy="-4" font-size="7">-04</tspan></text>
<text x="515.00" y="147.60" font-size="11" text-anchor="end" fill="#262626">y = -2.79x - 13.87</text>
<text x="515.00" y="160.90" font-size="11" text-anchor="end" fill="#262626">R<tspan dy="-4" font-size="7">2</tspan><tspan dy="4"> = 0.65</tspan></text>
<text x="515.00" y="174.20" font-size="11" text-anchor="end" fill="#262626">n = 22</text>
<text x="515.00" y="187.50" font-size="11" text-anchor="end" fill="#262626"><tspan font-style="italic">p</tspan>-value = 5.68E<tspan dy="-4" font-size="7">-06</tspan></text>
<text x="790.40" y="147.60" font-size="11" text-anchor="end" fill="#262626">y = -3.25x + 15.05</text>
<text x="790.40" y="160.90" font-size="11" text-anchor="end" fill="#262626">R<tspan dy="-4" font-size="7">2</tspan><tspan dy="4"> = 0.37</tspan></text>
<text x="790.40" y="174.20" font-size="11" text-anchor="end" fill="#262626">n = 22</text>
<text x="790.40" y="187.50" font-size="11" text-anchor="end" fill="#262626"><tspan font-style="italic">p</tspan>-value = 2.71E<tspan dy="-4" font-size="7">-03</tspan></text>
<text x="267.00" y="342.85" font-size="11" text-anchor="end" fill="#262626">y = 0.39x - 19.86</text>
<text x="267.00" y="356.15" font-size="11" text-anchor="end" fill="#262626">R<tspan dy="-4" font-size="7">2</tspan><tspan dy="4"> = 0.21</tspan></text>
<text x="267.00" y="369.45" font-size="11" text-anchor="end" fill="#262626">n = 31</text>
<text x="267.00" y="382.75" font-size="11" text-anchor="end" fill="#262626"><tspan font-style="italic">p</tspan>-value = 0.01</text>
<text x="515.00" y="342.85" font-size="11" text-anchor="end" fill="#262626">y = -1.95x - 14.16</text>
<text x="515.00" y="356.15" font-size="11" text-anchor="end" fill="#262626">R<tspan dy="-4" font-size="7">2</tspan><tspan dy="4"> = 0.18</tspan></text>
<text x="515.00" y="369.45" font-size="11" text-anchor="end" fill="#262626">n = 31</text>
<text x="515.00" y="382.75" font-size="11" text-anchor="end" fill="#262626"><tspan font-style="italic">p</tspan>-value = 0.02</text>
<text x="790.40" y="342.85" font-size="11" text-anchor="end" fill="#262626">y = -1.38x + 14.68</text>
<text x="790.40" y="356.15" font-size="11" text-anchor="end" fill="#262626">R<tspan dy="-4" font-size="7">2</tspan><tspan dy="4"> = 0.07</tspan></text>
<text x="790.40" y="369.45" font-size="11" text-anchor="end" fill="#262626">n = 31</text>
<text x="790.40" y="382.75" font-size="11" text-anchor="end" fill="#262626"><tspan font-style="italic">p</tspan>-value = 0.17</text>
<line x1="46.70" y1="183.30" x2="58.30" y2="183.30" stroke="#1a1a1a" stroke-width="1"/>
<line x1="46.70" y1="181.60" x2="46.70" y2="185.00" stroke="#1a1a1a" stroke-width="1"/>
<line x1="58.30" y1="181.60" x2="58.30" y2="185.00" stroke="#1a1a1a" stroke-width="1"/>
<line x1="52.50" y1="181.00" x2="52.50" y2="185.30" stroke="#1a1a1a" stroke-width="1"/>
<line x1="50.90" y1="181.00" x2="54.10" y2="181.00" stroke="#1a1a1a" stroke-width="1"/>
<line x1="50.90" y1="185.30" x2="54.10" y2="185.30" stroke="#1a1a1a" stroke-width="1"/>
<line x1="293.00" y1="183.30" x2="299.40" y2="183.30" stroke="#1a1a1a" stroke-width="1"/>
<line x1="293.00" y1="181.80" x2="293.00" y2="184.80" stroke="#1a1a1a" stroke-width="1"/>
<line x1="299.40" y1="181.80" x2="299.40" y2="184.80" stroke="#1a1a1a" stroke-width="1"/>
<line x1="296.30" y1="180.90" x2="296.30" y2="185.30" stroke="#1a1a1a" stroke-width="1"/>
<line x1="294.80" y1="180.90" x2="297.80" y2="180.90" stroke="#1a1a1a" stroke-width="1"/>
<line x1="294.80" y1="185.30" x2="297.80" y2="185.30" stroke="#1a1a1a" stroke-width="1"/>
<line x1="563.90" y1="183.40" x2="570.40" y2="183.40" stroke="#1a1a1a" stroke-width="1"/>
<line x1="563.90" y1="181.60" x2="563.90" y2="185.20" stroke="#1a1a1a" stroke-width="1"/>
<line x1="570.40" y1="181.60" x2="570.40" y2="185.20" stroke="#1a1a1a" stroke-width="1"/>
<line x1="567.30" y1="179.00" x2="567.30" y2="187.50" stroke="#1a1a1a" stroke-width="1"/>
<line x1="565.60" y1="179.00" x2="569.00" y2="179.00" stroke="#1a1a1a" stroke-width="1"/>
<line x1="565.60" y1="187.50" x2="569.00" y2="187.50" stroke="#1a1a1a" stroke-width="1"/>
<text transform="translate(13.30 103.00) rotate(-90)" x="0" y="0" font-size="15.75" text-anchor="middle" fill="#1e1e1e">δ<tspan font-size="9.5" dy="-4.9">13</tspan><tspan dy="4.9">C</tspan><tspan font-size="9.5" dy="5.6">coll</tspan><tspan dy="-5.6"> (‰ VPDB)</tspan></text>
<text transform="translate(13.30 297.60) rotate(-90)" x="0" y="0" font-size="15.75" text-anchor="middle" fill="#1e1e1e">δ<tspan font-size="9.5" dy="-4.9">13</tspan><tspan dy="4.9">C</tspan><tspan font-size="9.5" dy="5.6">coll</tspan><tspan dy="-5.6"> (‰ VPDB)</tspan></text>
<text transform="translate(535.80 101.10) rotate(-90)" x="0" y="0" font-size="15.75" text-anchor="middle" fill="#1e1e1e">δ<tspan font-size="9.5" dy="-4.9">15</tspan><tspan dy="4.9">N</tspan><tspan font-size="9.5" dy="5.6">coll</tspan><tspan dy="-5.6"> (‰ AIR)</tspan></text>
<text transform="translate(535.80 297.30) rotate(-90)" x="0" y="0" font-size="15.75" text-anchor="middle" fill="#1e1e1e">δ<tspan font-size="9.5" dy="-4.9">15</tspan><tspan dy="4.9">N</tspan><tspan font-size="9.5" dy="5.6">coll</tspan><tspan dy="-5.6"> (‰ AIR)</tspan></text>
<text x="157.60" y="422.00" font-size="15.75" text-anchor="middle" fill="#1e1e1e">δ<tspan font-size="9.5" dy="-4.9">15</tspan><tspan dy="4.9">N</tspan><tspan font-size="9.5" dy="5.6">coll</tspan><tspan dy="-5.6"> (‰ AIR)</tspan></text>
<text x="399.40" y="421.30" font-size="15.75" text-anchor="middle" fill="#1e1e1e">δ<tspan font-size="9.5" dy="-4.9">66</tspan><tspan dy="4.9">Zn</tspan><tspan font-size="9.5" dy="5.6">en</tspan><tspan dy="-5.6"> (‰ JMC Lyon)</tspan></text>
<text x="673.00" y="421.30" font-size="15.75" text-anchor="middle" fill="#1e1e1e">δ<tspan font-size="9.5" dy="-4.9">66</tspan><tspan dy="4.9">Zn</tspan><tspan font-size="9.5" dy="5.6">en</tspan><tspan dy="-5.6"> (‰ JMC Lyon)</tspan></text>
<g stroke="#a32f33" stroke-width="1.7" fill="none"><circle cx="777.1" cy="10.4" r="6.6"/><line x1="777.1" y1="17" x2="777.1" y2="29.7"/><line x1="770" y1="22.9" x2="784.2" y2="22.9"/></g>
<g stroke="#5b9bd5" stroke-width="1.6" fill="none" stroke-linejoin="miter" stroke-miterlimit="3"><circle cx="776.8" cy="216.3" r="5.9"/><line x1="779.5" y1="211" x2="784.2" y2="200.2"/><polyline points="776.5,203.5 784.3,199.8 786.1,208"/></g>
<circle cx="205.50" cy="445.6" r="1.9" fill="#b9242a" stroke="#2a2a2a" stroke-width="0.7"/>
<text x="210.00" y="448.60" font-size="11" text-anchor="start" fill="#2a2a2a">adult female</text>
<circle cx="321.75" cy="445.6" r="1.9" fill="#f8cdd4" stroke="#2a2a2a" stroke-width="0.7"/>
<text x="325.00" y="448.60" font-size="11" text-anchor="start" fill="#2a2a2a">juvenile female</text>
<circle cx="448.90" cy="445.6" r="1.9" fill="#1c4379" stroke="#2a2a2a" stroke-width="0.7"/>
<text x="453.30" y="448.60" font-size="11" text-anchor="start" fill="#2a2a2a">adult male</text>
<circle cx="553.60" cy="445.6" r="1.9" fill="#bcd6ee" stroke="#2a2a2a" stroke-width="0.7"/>
<text x="557.30" y="448.60" font-size="11" text-anchor="start" fill="#2a2a2a">juvenile male</text>
</svg>
</body></html>
